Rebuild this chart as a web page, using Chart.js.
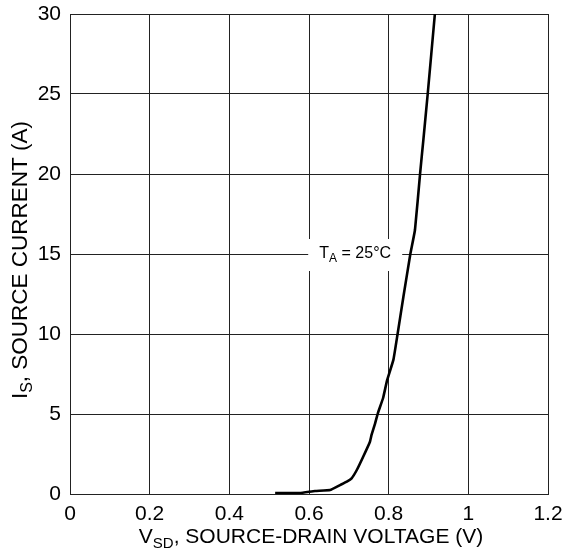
<!DOCTYPE html>
<html><head><meta charset="utf-8">
<script src="https://cdn.jsdelivr.net/npm/chart.js@4/dist/chart.umd.min.js"></script>
<style>html,body{margin:0;padding:0;background:#fff}#wrap{width:576px;height:549px}</style>
</head><body><div id="wrap"><canvas id="c" width="576" height="549"></canvas></div>
<script>
// Source-drain voltage (V) and source current (A)
const vsd = [0.515, 0.577, 0.615, 0.653, 0.678, 0.695, 0.707, 0.720, 0.736, 0.753, 0.757, 0.766, 0.773, 0.786, 0.796, 0.812, 0.822, 0.837, 0.854, 0.866, 0.879, 0.887, 0.898, 0.916];
const isrc = [0.06, 0.06, 0.19, 0.25, 0.56, 0.77, 0.98, 1.5, 2.33, 3.27, 3.69, 4.42, 5.06, 6.0, 7.1, 8.4, 9.94, 12.33, 14.94, 16.5, 20.06, 22.1, 25.0, 30.0];
const xTicks = [0, 0.2, 0.4, 0.6, 0.8, 1, 1.2];
const yTicks = [0, 5, 10, 15, 20, 25, 30];
const xTitle = [{t:'V'},{t:'SD',sub:true},{t:', SOURCE-DRAIN VOLTAGE (V)'}];
const yTitle = [{t:'I'},{t:'S',sub:true},{t:', SOURCE CURRENT (A)'}];
const annot = {x:0.716, y:15, parts:[{t:'T'},{t:'A',sub:true},{t:' = 25°C'}]};

const FONT = '"Liberation Sans", Arial, Helvetica, sans-serif';

function partsWidth(ctx, parts, size, subSize){
  let w = 0;
  for (const p of parts){ ctx.font = (p.sub?subSize:size)+'px '+FONT; w += ctx.measureText(p.t).width; }
  return w;
}
function drawParts(ctx, parts, x, y, size, subSize, subOff){
  let cx = x;
  ctx.textBaseline = 'middle'; ctx.textAlign = 'left';
  for (const p of parts){
    ctx.font = (p.sub?subSize:size)+'px '+FONT;
    ctx.fillText(p.t, cx, p.sub ? y+subOff : y);
    cx += ctx.measureText(p.t).width;
  }
}

const titlesPlugin = {
  id:'titles',
  afterDraw(chart){
    const ctx = chart.ctx, a = chart.chartArea, xs = chart.scales.x, ys = chart.scales.y;
    ctx.save();
    ctx.fillStyle = '#000';
    // x title
    let w = partsWidth(ctx, xTitle, 21, 15);
    drawParts(ctx, xTitle, (a.left+a.right)/2 - w/2 + 2, 537, 21, 15, 7);
    // y title
    ctx.save();
    ctx.translate(21, (a.top+a.bottom)/2 + 6);
    ctx.rotate(-Math.PI/2);
    w = partsWidth(ctx, yTitle, 22.5, 16);
    drawParts(ctx, yTitle, -w/2, 0, 22.5, 16, 7);
    ctx.restore();
    // annotation
    const px = xs.getPixelForValue(annot.x), py = ys.getPixelForValue(annot.y);
    ctx.fillStyle = '#fff';
    ctx.fillRect(px-47, py-15, 94, 32);
    ctx.fillStyle = '#000';
    w = partsWidth(ctx, annot.parts, 16, 12);
    drawParts(ctx, annot.parts, px - w/2, py, 16, 12, 5);
    ctx.restore();
  }
};

new Chart(document.getElementById('c'), {
  type:'scatter',
  data:{datasets:[{
    data: vsd.map((v,i)=>({x:v, y:isrc[i]})),
    showLine:true, borderColor:'#000', borderWidth:2.6, pointRadius:0, tension:0.1, fill:false
  }]},
  options:{
    responsive:false, animation:false, devicePixelRatio:1,
    layout:{padding:{left:0, right:28, top:14, bottom:0}},
    plugins:{legend:{display:false}, tooltip:{enabled:false}},
    scales:{
      x:{type:'linear', min:0, max:1.2,
        afterBuildTicks(s){ s.ticks = xTicks.map(v=>({value:v})); },
        afterFit(s){ s.height = 55; s.paddingLeft = 0; s.paddingRight = 0; },
        grid:{color:'#222', lineWidth:1, drawTicks:false},
        border:{color:'#222', width:1},
        ticks:{color:'#000', padding:8, maxRotation:0, font:{family:FONT, size:21}, callback:v=>String(v)}
      },
      y:{type:'linear', min:0, max:30,
        afterBuildTicks(s){ s.ticks = yTicks.map(v=>({value:v})); },
        afterFit(s){ s.width = 70; s.paddingTop = 0; s.paddingBottom = 0; },
        grid:{color:'#222', lineWidth:1, drawTicks:false},
        border:{color:'#222', width:1},
        ticks:{color:'#000', padding:9, font:{family:FONT, size:21}, callback:v=>String(v)}
      }
    }
  },
  plugins:[titlesPlugin]
});
</script></body></html>
